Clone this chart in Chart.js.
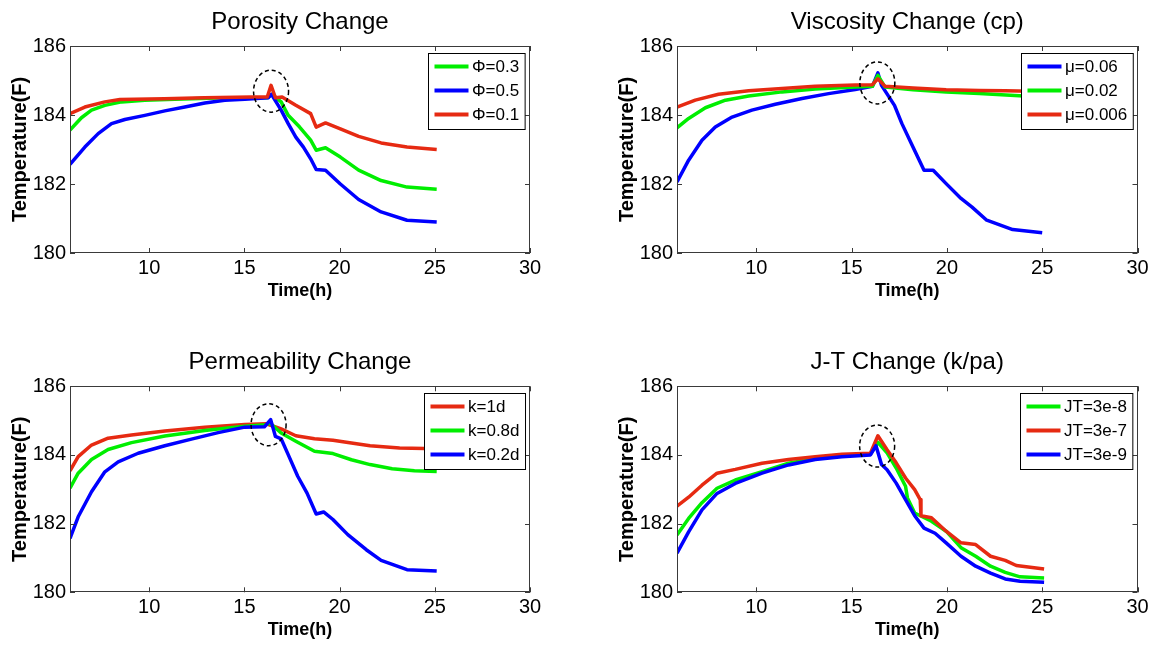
<!DOCTYPE html>
<html>
<head>
<meta charset="utf-8">
<title>Temperature sensitivity</title>
<script src="https://cdn.jsdelivr.net/npm/chart.js@4.4.0/dist/chart.umd.min.js"></script>
<style>
    body { margin: 0; background: #fff; }
    #wrap { position: relative; width: 1158px; height: 646px; overflow: hidden; }
    .panel { position: absolute; width: 579px; height: 323px; }
</style>
</head>
<body>
<div id="wrap">
    <div class="panel" style="left:0;top:0"><canvas id="c-porosity" width="579" height="323"></canvas></div>
    <div class="panel" style="left:579px;top:0"><canvas id="c-viscosity" width="579" height="323"></canvas></div>
    <div class="panel" style="left:0;top:323px"><canvas id="c-perm" width="579" height="323"></canvas></div>
    <div class="panel" style="left:579px;top:323px"><canvas id="c-jt" width="579" height="323"></canvas></div>
</div>
<script>
// ==========================================================
// DATA
// ==========================================================
const xTicks = [10, 15, 20, 25, 30];
const yTicks = [180, 182, 184, 186];
const xMin = 5.84, xMax = 30;
const yMin = 180, yMax = 186;

// Porosity change
const porTime03 = [5.84, 6.44, 6.97, 7.67, 8.55, 9.77, 11.35, 14, 16.2, 16.45, 16.93, 17.3, 17.9, 18.48, 18.77, 19.26, 20.04, 21.0, 22.18, 23.54, 25.1];
const porTemp03 = [183.56, 183.92, 184.14, 184.28, 184.38, 184.43, 184.46, 184.5, 184.5, 184.6, 184.38, 183.99, 183.65, 183.27, 182.98, 183.05, 182.78, 182.4, 182.1, 181.91, 181.85];
const porTime05 = [5.84, 6.62, 7.32, 8.02, 8.72, 9.77, 10.82, 11.87, 12.92, 13.97, 15.02, 16.25, 16.42, 16.93, 17.3, 17.7, 18.1, 18.48, 18.77, 19.26, 20.04, 21.0, 22.18, 23.54, 25.1];
const porTemp05 = [182.57, 183.07, 183.46, 183.75, 183.87, 183.99, 184.12, 184.23, 184.35, 184.43, 184.46, 184.5, 184.6, 184.14, 183.75, 183.36, 183.07, 182.73, 182.42, 182.4, 182.0, 181.55, 181.19, 180.95, 180.9];
const porTime01 = [5.84, 6.62, 7.67, 8.46, 10.8, 12.9, 15.37, 16.2, 16.4, 16.63, 16.98, 17.7, 18.48, 18.77, 19.26, 20.04, 21.0, 22.18, 23.54, 25.1];
const porTemp01 = [184.04, 184.23, 184.38, 184.45, 184.47, 184.5, 184.52, 184.52, 184.86, 184.5, 184.52, 184.28, 184.04, 183.65, 183.77, 183.6, 183.38, 183.19, 183.07, 183.0];

// Viscosity change
const visTime006 = [5.84, 6.45, 7.15, 7.85, 8.73, 9.77, 11.0, 12.4, 13.79, 15.19, 16.09, 16.38, 16.57, 17.25, 17.64, 18.22, 18.8, 19.28, 19.96, 20.74, 21.32, 22.09, 23.45, 25.0];
const visTemp006 = [182.06, 182.69, 183.27, 183.65, 183.94, 184.14, 184.31, 184.48, 184.62, 184.74, 184.83, 185.22, 184.86, 184.28, 183.75, 183.07, 182.4, 182.4, 182.01, 181.58, 181.33, 180.95, 180.68, 180.59];
const visTime002 = [5.84, 6.45, 7.33, 8.38, 9.6, 11.35, 13.09, 15.19, 16.09, 16.38, 16.76, 18.22, 19.96, 21.7, 24.03, 25.1];
const visTemp002 = [183.63, 183.9, 184.21, 184.43, 184.55, 184.67, 184.75, 184.81, 184.83, 185.15, 184.81, 184.73, 184.67, 184.62, 184.55, 184.52];
const visTime0006 = [5.84, 6.8, 8.02, 9.6, 11.35, 13.09, 15.19, 16.09, 16.38, 16.76, 18.22, 19.96, 21.7, 23.06, 25.1];
const visTemp0006 = [184.23, 184.43, 184.6, 184.7, 184.77, 184.83, 184.87, 184.88, 185.05, 184.83, 184.78, 184.73, 184.71, 184.7, 184.68];

// Permeability change
const permTime1 = [5.84, 6.27, 6.97, 7.84, 9.07, 10.82, 12.92, 15.02, 16.15, 16.93, 17.7, 18.68, 19.65, 20.62, 21.6, 23.15, 25.1];
const permTemp1 = [183.54, 183.95, 184.29, 184.49, 184.58, 184.7, 184.81, 184.89, 184.91, 184.76, 184.56, 184.47, 184.43, 184.35, 184.27, 184.2, 184.18];
const permTime08 = [5.84, 6.27, 6.97, 7.84, 9.07, 10.82, 12.92, 15.02, 16.15, 16.34, 16.93, 17.7, 18.68, 19.65, 20.62, 21.6, 22.76, 23.93, 25.1];
const permTemp08 = [183.03, 183.47, 183.87, 184.16, 184.36, 184.55, 184.71, 184.84, 184.88, 184.93, 184.64, 184.4, 184.11, 184.04, 183.86, 183.72, 183.6, 183.54, 183.52];
const permTime02 = [5.84, 6.27, 6.97, 7.67, 8.37, 9.42, 10.82, 12.22, 13.62, 15.02, 16.05, 16.38, 16.63, 16.93, 17.3, 17.8, 18.29, 18.77, 19.16, 19.65, 20.43, 21.4, 22.18, 23.54, 25.1];
const permTemp02 = [181.57, 182.2, 182.93, 183.51, 183.8, 184.05, 184.27, 184.46, 184.65, 184.81, 184.82, 185.03, 184.54, 184.47, 184.01, 183.38, 182.89, 182.28, 182.34, 182.12, 181.68, 181.24, 180.93, 180.66, 180.62];

// J-T change
const jtTime8 = [5.84, 6.45, 7.15, 7.94, 8.9, 10.3, 11.69, 13.09, 14.49, 15.99, 16.38, 16.86, 17.34, 17.83, 17.93, 18.31, 19.19, 19.96, 20.74, 21.51, 22.29, 23.06, 23.84, 25.1];
const jtTemp8 = [181.67, 182.15, 182.61, 183.03, 183.27, 183.51, 183.76, 183.9, 183.99, 184.03, 184.37, 184.06, 183.62, 183.09, 182.75, 182.31, 182.07, 181.78, 181.3, 181.05, 180.76, 180.58, 180.45, 180.42];
const jtTime7 = [5.84, 6.45, 7.15, 7.94, 8.9, 10.3, 11.69, 13.09, 14.49, 15.99, 16.38, 16.86, 17.34, 17.83, 18.31, 18.6, 18.64, 19.19, 19.96, 20.74, 21.51, 22.29, 23.06, 23.64, 25.1];
const jtTemp7 = [182.51, 182.77, 183.12, 183.47, 183.58, 183.76, 183.87, 183.95, 184.02, 184.05, 184.56, 184.15, 183.77, 183.33, 182.99, 182.7, 182.23, 182.17, 181.78, 181.44, 181.39, 181.05, 180.93, 180.78, 180.68];
const jtTime9 = [5.84, 6.45, 7.15, 7.94, 8.9, 10.3, 11.69, 13.09, 14.49, 15.99, 16.28, 16.57, 16.86, 17.34, 17.83, 18.31, 18.8, 19.38, 19.96, 20.74, 21.51, 22.29, 23.06, 23.84, 25.1];
const jtTemp9 = [181.14, 181.76, 182.4, 182.88, 183.17, 183.47, 183.71, 183.87, 183.95, 184.0, 184.27, 183.72, 183.57, 183.18, 182.7, 182.23, 181.87, 181.72, 181.44, 181.05, 180.76, 180.56, 180.39, 180.32, 180.29];

// Colours
const GREEN = '#00ee00';
const BLUE = '#0000ff';
const RED = '#e62a12';
const FONT = "'Liberation Sans', Arial, Helvetica, sans-serif";

// ==========================================================
// PANELS
// ==========================================================
const panels = [
    {
        canvas: 'c-porosity', title: 'Porosity Change',
        series: [
            { label: '\u03A6=0.3', color: GREEN, time: porTime03, temp: porTemp03 },
            { label: '\u03A6=0.5', color: BLUE, time: porTime05, temp: porTemp05 },
            { label: '\u03A6=0.1', color: RED, time: porTime01, temp: porTemp01 }
        ],
        mark: { x: 16.4, y: 184.69 },
        yAxisWidth: 70, padRight: 49, padTop: 46, xAxisHeight: 70, yTitlePad: 8, xTitlePad: 21
    },
    {
        canvas: 'c-viscosity', title: 'Viscosity Change (cp)',
        series: [
            { label: '\u03BC=0.06', color: BLUE, time: visTime006, temp: visTemp006 },
            { label: '\u03BC=0.02', color: GREEN, time: visTime002, temp: visTemp002 },
            { label: '\u03BC=0.006', color: RED, time: visTime0006, temp: visTemp0006 }
        ],
        mark: { x: 16.35, y: 184.93 },
        yAxisWidth: 98, padRight: 20.5, padTop: 46, xAxisHeight: 70, yTitlePad: 36, xTitlePad: 21
    },
    {
        canvas: 'c-perm', title: 'Permeability Change',
        series: [
            { label: 'k=1d', color: RED, time: permTime1, temp: permTemp1 },
            { label: 'k=0.8d', color: GREEN, time: permTime08, temp: permTemp08 },
            { label: 'k=0.2d', color: BLUE, time: permTime02, temp: permTemp02 }
        ],
        mark: { x: 16.27, y: 184.88 },
        yAxisWidth: 70, padRight: 49, padTop: 63.3, xAxisHeight: 53.7, yTitlePad: 8, xTitlePad: 5
    },
    {
        canvas: 'c-jt', title: 'J-T Change (k/pa)',
        series: [
            { label: 'JT=3e-8', color: GREEN, time: jtTime8, temp: jtTemp8 },
            { label: 'JT=3e-7', color: RED, time: jtTime7, temp: jtTemp7 },
            { label: 'JT=3e-9', color: BLUE, time: jtTime9, temp: jtTemp9 }
        ],
        mark: { x: 16.34, y: 184.26 },
        yAxisWidth: 98, padRight: 20.5, padTop: 63.3, xAxisHeight: 53.7, yTitlePad: 36, xTitlePad: 5
    }
];

// ==========================================================
// PLUGINS (MATLAB-style frame, legend, title, dashed circle)
// ==========================================================
const framePlugin = {
    id: 'frame',
    afterDraw(chart) {
        const { ctx, chartArea: a, scales: { x, y } } = chart;
        ctx.save();
        ctx.strokeStyle = '#3a3a3a';
        ctx.lineWidth = 1;
        ctx.strokeRect(Math.round(a.left) + 0.5, Math.round(a.top) + 0.5,
            Math.round(a.right - a.left) - 1, Math.round(a.bottom - a.top) - 1);
        ctx.beginPath();
        x.ticks.forEach(t => {
            const px = Math.round(x.getPixelForValue(t.value)) + 0.5;
            ctx.moveTo(px, a.bottom); ctx.lineTo(px, a.bottom - 5);
            ctx.moveTo(px, a.top); ctx.lineTo(px, a.top + 5);
        });
        y.ticks.forEach(t => {
            const py = Math.round(y.getPixelForValue(t.value)) + 0.5;
            ctx.moveTo(a.left, py); ctx.lineTo(a.left + 5, py);
            ctx.moveTo(a.right, py); ctx.lineTo(a.right - 5, py);
        });
        ctx.stroke();
        ctx.restore();
    }
};

function makeMarkPlugin(mark) {
    return {
        id: 'mark',
        afterDatasetsDraw(chart) {
            const { ctx, scales: { x, y } } = chart;
            ctx.save();
            ctx.strokeStyle = '#000';
            ctx.lineWidth = 1.5;
            ctx.setLineDash([4, 3]);
            ctx.beginPath();
            ctx.ellipse(x.getPixelForValue(mark.x), y.getPixelForValue(mark.y), 17.5, 21, 0, 0, Math.PI * 2);
            ctx.stroke();
            ctx.restore();
        }
    };
}

const legendPlugin = {
    id: 'boxLegend',
    afterDraw(chart) {
        const { ctx, chartArea: a } = chart;
        const sets = chart.data.datasets;
        ctx.save();
        ctx.font = `17px ${FONT}`;
        const textW = Math.max(...sets.map(d => ctx.measureText(d.label).width));
        const w = 6 + 34 + 3.5 + textW + 6;
        const h = 76;
        const bx = Math.round(a.right - 5 - w) + 0.5;
        const by = Math.round(a.top + 7) + 0.5;
        ctx.fillStyle = '#fff';
        ctx.fillRect(bx, by, w, h);
        ctx.strokeStyle = '#000';
        ctx.lineWidth = 1;
        ctx.strokeRect(bx, by, w, h);
        sets.forEach((d, i) => {
            const ly = by + 13 + i * 24;
            ctx.strokeStyle = d.borderColor;
            ctx.lineWidth = 4;
            ctx.beginPath();
            ctx.moveTo(bx + 6, ly);
            ctx.lineTo(bx + 40, ly);
            ctx.stroke();
            ctx.fillStyle = '#000';
            ctx.textBaseline = 'middle';
            ctx.textAlign = 'left';
            ctx.fillText(d.label, bx + 43.5, ly + 1);
        });
        ctx.restore();
    }
};

function makeTitlePlugin(text) {
    return {
        id: 'panelTitle',
        afterDraw(chart) {
            const { ctx, chartArea: a } = chart;
            ctx.save();
            ctx.font = `24px ${FONT}`;
            ctx.fillStyle = '#000';
            ctx.textAlign = 'center';
            ctx.textBaseline = 'alphabetic';
            ctx.fillText(text, (a.left + a.right) / 2, a.top - 17);
            ctx.restore();
        }
    };
}

// ==========================================================
// CHARTS
// ==========================================================
Chart.defaults.font.family = FONT;
Chart.defaults.color = '#000';

function makeChart(p) {
    const n = p.series.length;
    const datasets = p.series.map((s, i) => ({
        label: s.label,
        data: s.time.map((t, j) => ({ x: t, y: s.temp[j] })),
        borderColor: s.color,
        backgroundColor: s.color,
        borderWidth: 3.5,
        borderJoinStyle: 'round',
        pointRadius: 0,
        tension: 0,
        fill: false,
        order: n - 1 - i // later series on top, like MATLAB
    }));

    return new Chart(document.getElementById(p.canvas), {
        type: 'line',
        data: { datasets },
        options: {
            responsive: false,
            animation: false,
            events: [],
            layout: { padding: { left: 0, right: p.padRight, top: p.padTop, bottom: 0 } },
            plugins: {
                legend: { display: false },
                title: { display: false },
                tooltip: { enabled: false }
            },
            scales: {
                x: {
                    type: 'linear',
                    min: xMin,
                    max: xMax,
                    afterBuildTicks: axis => { axis.ticks = xTicks.map(v => ({ value: v })); },
                    afterFit: axis => { axis.height = p.xAxisHeight; },
                    grid: { display: false, drawTicks: false },
                    border: { display: false },
                    ticks: { color: '#000', font: { size: 20 }, padding: 3, maxRotation: 0, autoSkip: false },
                    title: {
                        display: true, text: 'Time(h)', color: '#000',
                        font: { size: 18, weight: 'bold' },
                        padding: { top: 0, bottom: p.xTitlePad }
                    }
                },
                y: {
                    type: 'linear',
                    min: yMin,
                    max: yMax,
                    afterBuildTicks: axis => { axis.ticks = yTicks.map(v => ({ value: v })); },
                    afterFit: axis => { axis.width = p.yAxisWidth; },
                    grid: { display: false, drawTicks: false },
                    border: { display: false },
                    ticks: { color: '#000', font: { size: 20 }, padding: 4 },
                    title: {
                        display: true, text: 'Temperature(F)', color: '#000',
                        font: { size: 20, weight: 'bold' },
                        padding: { top: p.yTitlePad, bottom: 0 }
                    }
                }
            }
        },
        plugins: [makeMarkPlugin(p.mark), framePlugin, legendPlugin, makeTitlePlugin(p.title)]
    });
}

panels.forEach(makeChart);
</script>
</body>
</html>
